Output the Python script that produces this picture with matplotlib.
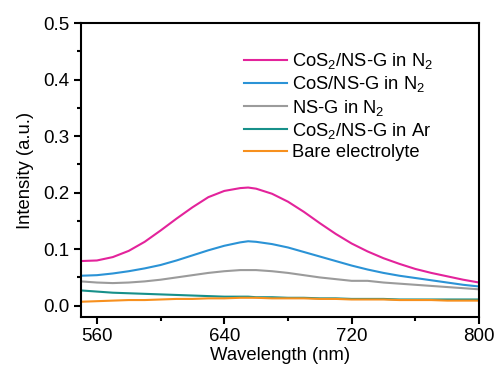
import numpy as np
import matplotlib
matplotlib.use("Agg")
import matplotlib.pyplot as plt
from matplotlib.ticker import MultipleLocator

plt.rcParams['font.family'] = ['Liberation Sans', 'DejaVu Sans']
plt.rcParams['mathtext.fontset'] = 'custom'
plt.rcParams['mathtext.rm'] = 'Liberation Sans'

# wavelength (nm)
wl = [550, 560, 570, 580, 590, 600, 610, 620, 630, 640, 650, 655, 660, 670, 680,
      690, 700, 710, 720, 730, 740, 750, 760, 770, 780, 790, 800]

# intensity values
cos2_n2 = [0.079, 0.080, 0.086, 0.097, 0.113, 0.133, 0.154, 0.174, 0.192, 0.203, 0.208, 0.209,
           0.207, 0.198, 0.184, 0.166, 0.146, 0.127, 0.110, 0.096, 0.084, 0.074, 0.065, 0.058,
           0.052, 0.046, 0.041]
cos_n2 = [0.053, 0.054, 0.057, 0.061, 0.066, 0.072, 0.080, 0.089, 0.098, 0.106, 0.112, 0.114,
          0.113, 0.109, 0.103, 0.095, 0.087, 0.079, 0.071, 0.064, 0.058, 0.053, 0.049, 0.045,
          0.041, 0.037, 0.034]
nsg_n2 = [0.043, 0.041, 0.040, 0.041, 0.043, 0.046, 0.050, 0.054, 0.058, 0.061, 0.063, 0.063,
          0.063, 0.061, 0.058, 0.054, 0.050, 0.047, 0.044, 0.044, 0.041, 0.039, 0.037, 0.035,
          0.033, 0.031, 0.029]
cos2_ar = [0.027, 0.025, 0.023, 0.022, 0.021, 0.020, 0.019, 0.018, 0.017, 0.016, 0.016, 0.016,
           0.015, 0.015, 0.014, 0.014, 0.013, 0.013, 0.012, 0.012, 0.012, 0.011, 0.011, 0.011,
           0.011, 0.011, 0.011]
bare = [0.007, 0.008, 0.009, 0.010, 0.010, 0.011, 0.012, 0.012, 0.013, 0.013, 0.014, 0.014,
        0.014, 0.013, 0.013, 0.013, 0.012, 0.012, 0.011, 0.011, 0.011, 0.010, 0.010, 0.010,
        0.009, 0.009, 0.009]

labels = [r'CoS$\mathregular{_2}$/NS-G in N$\mathregular{_2}$',
          r'CoS/NS-G in N$\mathregular{_2}$',
          r'NS-G in N$\mathregular{_2}$',
          r'CoS$\mathregular{_2}$/NS-G in Ar',
          'Bare electrolyte']
colors = ['#E3239B', '#2B93D6', '#9B9B9B', '#17908A', '#F7901E']

fig = plt.figure(figsize=(4.95, 3.67), dpi=100)
ax = fig.add_axes([0.1636, 0.1362, 0.8041, 0.8011])

for ys, lab, c in zip([cos2_n2, cos_n2, nsg_n2, cos2_ar, bare], labels, colors):
    ax.plot(wl, ys, color=c, lw=1.5, label=lab)

ax.set_xlim(550, 800)
ax.set_ylim(-0.02, 0.5)
ax.set_xticks([560, 640, 720, 800])
ax.xaxis.set_minor_locator(MultipleLocator(40))
ax.yaxis.set_major_locator(MultipleLocator(0.1))
ax.yaxis.set_minor_locator(MultipleLocator(0.05))
ax.set_yticks([0.0, 0.1, 0.2, 0.3, 0.4, 0.5])

for s in ax.spines.values():
    s.set_linewidth(1.5)
ax.tick_params(which='major', direction='out', length=5, width=1.5, labelsize=13.5, pad=3)
ax.tick_params(which='minor', direction='out', length=3, width=1.5)

ax.set_xlabel('Wavelength (nm)', fontsize=13.3, labelpad=1)
ax.set_ylabel('Intensity (a.u.)', fontsize=13.3, labelpad=7)

ax.legend(loc='upper left', bbox_to_anchor=(0.41, 0.905), frameon=False, fontsize=13.2,
          handlelength=2.35, handletextpad=0.25, labelspacing=0.18, borderaxespad=0,
          borderpad=0)

fig.savefig('out.png', dpi=100)
